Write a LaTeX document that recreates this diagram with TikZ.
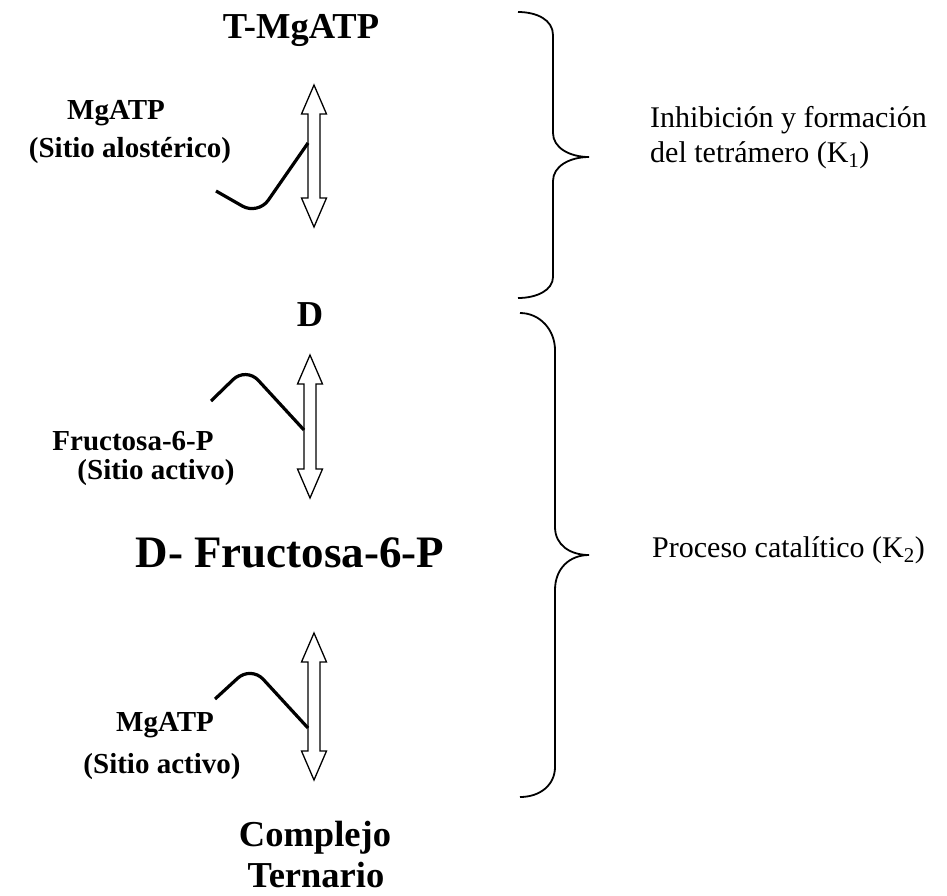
\documentclass[tikz,border=0pt]{standalone}
\usepackage{fontspec}
\setmainfont{Liberation Serif}
\usetikzlibrary{calc}
\newcommand\dblarrow[2]{\draw[arrowline] (#1) -- ($(#1)+(12.5,29)$) -- ($(#1)+(6,29)$) -- ($(#2)+(6,-29)$) -- ($(#2)+(12.5,-29)$) -- (#2) -- ($(#2)+(-12.5,-29)$) -- ($(#2)+(-6,-29)$) -- ($(#1)+(-6,29)$) -- ($(#1)+(-12.5,29)$) -- cycle;}
\begin{document}
\begin{tikzpicture}[x=1pt,y=-1pt,
  big/.style={inner sep=0pt,anchor=base,font=\fontsize{36.5}{43}\selectfont\bfseries},
  bigger/.style={inner sep=0pt,anchor=base,font=\fontsize{45}{52}\selectfont\bfseries},
  small/.style={inner sep=0pt,anchor=base,font=\fontsize{29}{34}\selectfont\bfseries},
  side/.style={inner sep=0pt,anchor=base west,font=\fontsize{30}{35}\selectfont},
  arrowline/.style={draw=black,line width=1.3pt,fill=white,line join=miter},
  ligand/.style={line width=3.2pt,rounded corners=18pt},
  bracestyle/.style={line width=1.8pt}]
\useasboundingbox (0,0) rectangle (947,895);
% main species
\node[big] (tmg) at (301,38) {T-MgATP};
\node[big] (d) at (310,326) {D};
\node[bigger] (df) at (290,567) {D- Fructosa-6-P};
\node[big] (comp) at (315,846) {Complejo};
\node[big] (tern) at (316,887) {Ternario};
% ligand labels
\node[small] (l1a) at (116,119) {MgATP};
\node[small] (l1b) at (130,157) {(Sitio alostérico)};
\node[small] (l2a) at (133,450) {Fructosa-6-P};
\node[small] (l2b) at (156,479) {(Sitio activo)};
\node[small] (l3a) at (165,731) {MgATP};
\node[small] (l3b) at (162,773) {(Sitio activo)};
% side labels
\node[side] (s1a) at (650,127) {Inhibición y formación};
\node[side] (s1b) at (650,162) {del tetrámero (K\textsubscript{1})};
\node[side] (s2) at (652,557) {Proceso catalítico (K\textsubscript{2})};
% arrows
\coordinate (a1t) at (314,85);
\coordinate (a1b) at (314,227);
\coordinate (a2t) at (310,355);
\coordinate (a2b) at (310,498);
\coordinate (a3t) at (314,633);
\coordinate (a3b) at (314,780);
\dblarrow{a1t}{a1b}
\dblarrow{a2t}{a2b}
\dblarrow{a3t}{a3b}
% ligand curves
\coordinate (c1s) at (216,191);
\coordinate (c1m) at (258,215);
\coordinate (c1e) at (308,143);
\coordinate (c2s) at (211,401);
\coordinate (c2m) at (246,367);
\coordinate (c2e) at (304,430);
\coordinate (c3s) at (215,699);
\coordinate (c3m) at (251,666);
\coordinate (c3e) at (308,728);
\draw[ligand] (c1s) -- (c1m) -- (c1e);
\draw[ligand] (c2s) -- (c2m) -- (c2e);
\draw[ligand] (c3s) -- (c3m) -- (c3e);
% braces
\draw[bracestyle] (518,12) .. controls (537,12) and (553,20) .. (553,35) -- (553,133) .. controls (553,148) and (570,157) .. (589,157) .. controls (570,157) and (553,166) .. (553,181) -- (553,277) .. controls (553,290) and (537,298) .. (518,298);
\draw[bracestyle] (520,313) .. controls (540,313) and (555,330) .. (555,350) -- (555,527) .. controls (555,545) and (570,555) .. (589,555) .. controls (570,555) and (555,568) .. (555,590) -- (555,767) .. controls (555,785) and (540,797) .. (520,797);
\end{tikzpicture}
\end{document}
